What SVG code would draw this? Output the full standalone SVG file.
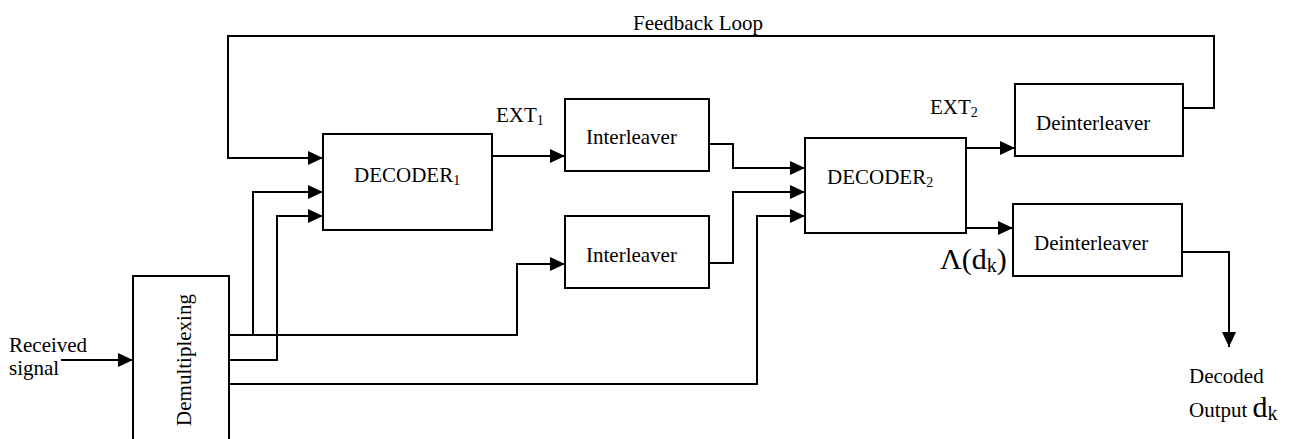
<svg xmlns="http://www.w3.org/2000/svg" width="1290" height="439" viewBox="0 0 1290 439">
<style>
.box{fill:#fff;stroke:#000;stroke-width:2}
.ln{fill:none;stroke:#000;stroke-width:2}
.t{font-family:"Liberation Serif","Times New Roman",serif;font-size:21px;fill:#000}
.sub{font-size:14px}
.big{font-size:30px}
.bsub{font-size:20px}
</style>
<defs>
<marker id="ah" markerUnits="userSpaceOnUse" markerWidth="15" markerHeight="14" refX="15" refY="7" orient="auto">
<path d="M0,0 L15,7 L0,14 z" fill="#000"/>
</marker>
</defs>
<rect width="1290" height="439" fill="#fff"/>
<g id="connectors">
<path class="ln" d="M61,360 H133" marker-end="url(#ah)"/>
<path class="ln" d="M1182,108 H1214 V36 H228 V158 H323" marker-end="url(#ah)"/>
<path class="ln" d="M229,335 H517 V264 H565" marker-end="url(#ah)"/>
<path class="ln" d="M253,335 V192 H323" marker-end="url(#ah)"/>
<path class="ln" d="M229,360 H277 V216 H323" marker-end="url(#ah)"/>
<path class="ln" d="M229,384 H757 V216 H805" marker-end="url(#ah)"/>
<path class="ln" d="M492,156 H565" marker-end="url(#ah)"/>
<path class="ln" d="M709,144 H733 V168 H805" marker-end="url(#ah)"/>
<path class="ln" d="M709,263 H733 V192 H805" marker-end="url(#ah)"/>
<path class="ln" d="M966,148 H1015" marker-end="url(#ah)"/>
<path class="ln" d="M966,228 H1013" marker-end="url(#ah)"/>
<path class="ln" d="M1182,252 H1229 V347" marker-end="url(#ah)"/>
</g>
<g id="demux">
<rect class="box" x="133" y="276" width="96" height="175"/>
<text class="t" transform="translate(191,360) rotate(-90)" text-anchor="middle">Demultiplexing</text>
</g>
<g id="decoder1">
<rect class="box" x="323" y="134" width="169" height="96"/>
<text class="t" x="354" y="182">DECODER<tspan class="sub" dy="3">1</tspan></text>
</g>
<g id="interleaver1">
<rect class="box" x="565" y="99" width="144" height="72"/>
<text class="t" x="586" y="144">Interleaver</text>
</g>
<g id="interleaver2">
<rect class="box" x="565" y="216" width="144" height="72"/>
<text class="t" x="586" y="262">Interleaver</text>
</g>
<g id="decoder2">
<rect class="box" x="805" y="138" width="161" height="95"/>
<text class="t" x="827" y="184">DECODER<tspan class="sub" dy="3">2</tspan></text>
</g>
<g id="deinterleaver1">
<rect class="box" x="1015" y="84" width="168" height="72"/>
<text class="t" x="1036" y="130">Deinterleaver</text>
</g>
<g id="deinterleaver2">
<rect class="box" x="1013" y="204" width="169" height="72"/>
<text class="t" x="1034" y="250">Deinterleaver</text>
</g>
<g id="labels">
<text class="t" x="633" y="30">Feedback Loop</text>
<text class="t" x="496" y="122">EXT<tspan class="sub" dy="3">1</tspan></text>
<text class="t" x="930" y="114">EXT<tspan class="sub" dy="3">2</tspan></text>
<text class="t big" x="940" y="269">Λ(d<tspan class="bsub" dy="3">k</tspan><tspan dy="-3">)</tspan></text>
<text class="t" x="9" y="352">Received</text>
<text class="t" x="9" y="375">signal</text>
<text class="t" x="1189" y="383">Decoded</text>
<text class="t" x="1189" y="417">Output <tspan class="big">d</tspan><tspan class="bsub" dy="3">k</tspan></text>
</g>
</svg>
